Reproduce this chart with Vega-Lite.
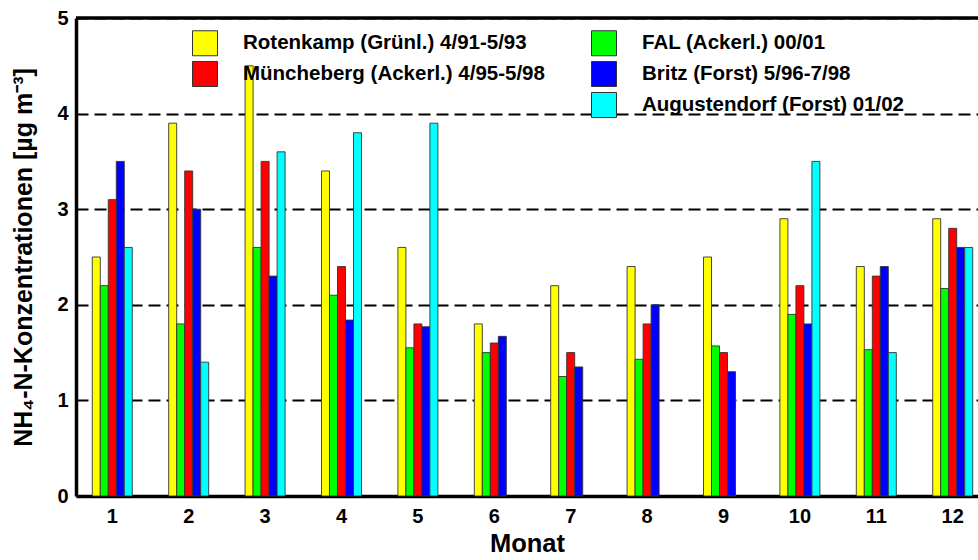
{
  "$schema": "https://vega.github.io/schema/vega-lite/v6.json",
  "width": 902,
  "height": 478,
  "autosize": {"type": "none"},
  "padding": {"left": 76, "top": 18, "right": 0, "bottom": 64},
  "background": "white",
  "config": {"view": {"stroke": null}, "font": "Liberation Sans"},
  "data": {"values": [
    {"month": 1, "station": "Rotenkamp (Grünl.) 4/91-5/93", "value": 2.5},
    {"month": 1, "station": "FAL (Ackerl.) 00/01", "value": 2.2},
    {"month": 1, "station": "Müncheberg (Ackerl.) 4/95-5/98", "value": 3.1},
    {"month": 1, "station": "Britz (Forst) 5/96-7/98", "value": 3.5},
    {"month": 1, "station": "Augustendorf (Forst) 01/02", "value": 2.6},
    {"month": 2, "station": "Rotenkamp (Grünl.) 4/91-5/93", "value": 3.9},
    {"month": 2, "station": "FAL (Ackerl.) 00/01", "value": 1.8},
    {"month": 2, "station": "Müncheberg (Ackerl.) 4/95-5/98", "value": 3.4},
    {"month": 2, "station": "Britz (Forst) 5/96-7/98", "value": 3.0},
    {"month": 2, "station": "Augustendorf (Forst) 01/02", "value": 1.4},
    {"month": 3, "station": "Rotenkamp (Grünl.) 4/91-5/93", "value": 4.5},
    {"month": 3, "station": "FAL (Ackerl.) 00/01", "value": 2.6},
    {"month": 3, "station": "Müncheberg (Ackerl.) 4/95-5/98", "value": 3.5},
    {"month": 3, "station": "Britz (Forst) 5/96-7/98", "value": 2.3},
    {"month": 3, "station": "Augustendorf (Forst) 01/02", "value": 3.6},
    {"month": 4, "station": "Rotenkamp (Grünl.) 4/91-5/93", "value": 3.4},
    {"month": 4, "station": "FAL (Ackerl.) 00/01", "value": 2.1},
    {"month": 4, "station": "Müncheberg (Ackerl.) 4/95-5/98", "value": 2.4},
    {"month": 4, "station": "Britz (Forst) 5/96-7/98", "value": 1.84},
    {"month": 4, "station": "Augustendorf (Forst) 01/02", "value": 3.8},
    {"month": 5, "station": "Rotenkamp (Grünl.) 4/91-5/93", "value": 2.6},
    {"month": 5, "station": "FAL (Ackerl.) 00/01", "value": 1.55},
    {"month": 5, "station": "Müncheberg (Ackerl.) 4/95-5/98", "value": 1.8},
    {"month": 5, "station": "Britz (Forst) 5/96-7/98", "value": 1.77},
    {"month": 5, "station": "Augustendorf (Forst) 01/02", "value": 3.9},
    {"month": 6, "station": "Rotenkamp (Grünl.) 4/91-5/93", "value": 1.8},
    {"month": 6, "station": "FAL (Ackerl.) 00/01", "value": 1.5},
    {"month": 6, "station": "Müncheberg (Ackerl.) 4/95-5/98", "value": 1.6},
    {"month": 6, "station": "Britz (Forst) 5/96-7/98", "value": 1.67},
    {"month": 7, "station": "Rotenkamp (Grünl.) 4/91-5/93", "value": 2.2},
    {"month": 7, "station": "FAL (Ackerl.) 00/01", "value": 1.25},
    {"month": 7, "station": "Müncheberg (Ackerl.) 4/95-5/98", "value": 1.5},
    {"month": 7, "station": "Britz (Forst) 5/96-7/98", "value": 1.35},
    {"month": 8, "station": "Rotenkamp (Grünl.) 4/91-5/93", "value": 2.4},
    {"month": 8, "station": "FAL (Ackerl.) 00/01", "value": 1.43},
    {"month": 8, "station": "Müncheberg (Ackerl.) 4/95-5/98", "value": 1.8},
    {"month": 8, "station": "Britz (Forst) 5/96-7/98", "value": 2.0},
    {"month": 9, "station": "Rotenkamp (Grünl.) 4/91-5/93", "value": 2.5},
    {"month": 9, "station": "FAL (Ackerl.) 00/01", "value": 1.57},
    {"month": 9, "station": "Müncheberg (Ackerl.) 4/95-5/98", "value": 1.5},
    {"month": 9, "station": "Britz (Forst) 5/96-7/98", "value": 1.3},
    {"month": 10, "station": "Rotenkamp (Grünl.) 4/91-5/93", "value": 2.9},
    {"month": 10, "station": "FAL (Ackerl.) 00/01", "value": 1.9},
    {"month": 10, "station": "Müncheberg (Ackerl.) 4/95-5/98", "value": 2.2},
    {"month": 10, "station": "Britz (Forst) 5/96-7/98", "value": 1.8},
    {"month": 10, "station": "Augustendorf (Forst) 01/02", "value": 3.5},
    {"month": 11, "station": "Rotenkamp (Grünl.) 4/91-5/93", "value": 2.4},
    {"month": 11, "station": "FAL (Ackerl.) 00/01", "value": 1.53},
    {"month": 11, "station": "Müncheberg (Ackerl.) 4/95-5/98", "value": 2.3},
    {"month": 11, "station": "Britz (Forst) 5/96-7/98", "value": 2.4},
    {"month": 11, "station": "Augustendorf (Forst) 01/02", "value": 1.5},
    {"month": 12, "station": "Rotenkamp (Grünl.) 4/91-5/93", "value": 2.9},
    {"month": 12, "station": "FAL (Ackerl.) 00/01", "value": 2.17},
    {"month": 12, "station": "Müncheberg (Ackerl.) 4/95-5/98", "value": 2.8},
    {"month": 12, "station": "Britz (Forst) 5/96-7/98", "value": 2.6},
    {"month": 12, "station": "Augustendorf (Forst) 01/02", "value": 2.6}
  ]},
  "layer": [
    {
      "mark": {"type": "bar", "stroke": "#333333", "strokeWidth": 0.9},
      "encoding": {
        "x": {
          "field": "month", "type": "ordinal",
          "scale": {"paddingInner": 0.4764, "paddingOuter": 0.1412, "align": 0.755, "round": false},
          "axis": {
            "title": "Monat", "labelAngle": 0, "labelFontSize": 20, "labelFontWeight": "bold",
            "labelColor": "black", "labelPadding": 10, "ticks": false,
            "domainColor": "black", "domainWidth": 3.5,
            "titleFontSize": 25.5, "titleFontWeight": "bold", "titleColor": "black", "titlePadding": 5
          }
        },
        "xOffset": {
          "field": "station", "type": "nominal",
          "scale": {"domain": ["Rotenkamp (Grünl.) 4/91-5/93", "FAL (Ackerl.) 00/01", "Müncheberg (Ackerl.) 4/95-5/98", "Britz (Forst) 5/96-7/98", "Augustendorf (Forst) 01/02"]}
        },
        "y": {
          "field": "value", "type": "quantitative",
          "scale": {"domain": [0, 5], "nice": false},
          "axis": {
            "title": "NH₄-N-Konzentrationen [µg m⁻³]", "values": [0, 1, 2, 3, 4, 5], "format": "d",
            "labelFontSize": 20, "labelFontWeight": "bold", "labelColor": "black", "labelPadding": 8,
            "ticks": false, "domainColor": "black", "domainWidth": 3.5,
            "grid": true, "gridColor": "black", "gridDash": [12, 6], "gridWidth": 2, "gridOpacity": 1,
            "titleFontSize": 25, "titleFontWeight": "bold", "titleColor": "black", "titlePadding": 20
          }
        },
        "color": {
          "field": "station", "type": "nominal",
          "scale": {
            "domain": ["Rotenkamp (Grünl.) 4/91-5/93", "Müncheberg (Ackerl.) 4/95-5/98", " ", "FAL (Ackerl.) 00/01", "Britz (Forst) 5/96-7/98", "Augustendorf (Forst) 01/02"],
            "range": ["#ffff00", "#ff0000", "#ffffff", "#00ff00", "#0000ff", "#00ffff"]
          },
          "legend": {
            "title": null, "orient": "none", "legendX": 116, "legendY": 12, "columns": 2,
            "symbolType": "square", "symbolSize": 625, "symbolStrokeColor": "#333333", "symbolStrokeWidth": 1,
            "symbolOpacity": 1,
            "labelFontSize": 20.5, "labelFontWeight": "bold", "labelColor": "black", "labelOffset": 25,
            "labelLimit": 600, "columnPadding": 44, "rowPadding": 1, "padding": 0,
            "encode": {"symbols": {"update": {"opacity": {"signal": "datum.value === ' ' ? 0 : 1"}}}}
          }
        }
      }
    },
    {
      "data": {"values": [{}]},
      "mark": {"type": "rule", "color": "black", "strokeWidth": 3.5},
      "encoding": {"y": {"datum": 5}}
    }
  ]
}
